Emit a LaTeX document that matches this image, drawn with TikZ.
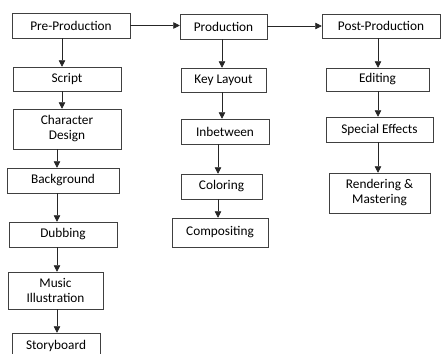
\documentclass[tikz,border=0pt]{standalone}
\usepackage{fontspec}
\setmainfont{Carlito}
\usepackage{tikz}
\usetikzlibrary{calc,arrows.meta,positioning}

\begin{document}
\begin{tikzpicture}[x=1pt, y=-1pt,
		stage/.style={draw=black!75, line width=0.5pt, align=center, inner sep=0pt, font=\fontsize{13.3}{15}\selectfont},
		flow/.style={draw=black!85, line width=0.5pt, -{Triangle[length=6.5pt, width=6.5pt]}}
	]
	\clip (0,0) rectangle (441,353);

	% Top row: the three phases
	\node[stage, minimum width=118pt, minimum height=25pt] (pre) at (71, 25.5) {Pre-Production};
	\node[stage, minimum width=87pt, minimum height=25pt] (prod) at (223.5, 26.5) {Production};
	\node[stage, minimum width=118pt, minimum height=24pt] (post) at (381, 26) {Post-Production};

	% Pre-production column
	\node[stage, minimum width=108pt, minimum height=24pt] (script) at (67, 79) {Script};
	\node[stage, minimum width=108pt, minimum height=40pt] (chardes) at (67, 129) {Character\\Design};
	\node[stage, minimum width=112pt, minimum height=25pt] (backgr) at (63, 180.5) {Background};
	\node[stage, minimum width=108pt, minimum height=25pt] (dubbing) at (63, 234.5) {Dubbing};
	\node[stage, minimum width=95pt, minimum height=37pt] (music) at (55.5, 290.5) {Music\\Illustration};
	\node[stage, minimum width=88pt, minimum height=25pt] (storyb) at (56, 345.5) {Storyboard};

	% Production column
	\node[stage, minimum width=85pt, minimum height=24pt] (keylay) at (223.5, 80) {Key Layout};
	\node[stage, minimum width=88pt, minimum height=25pt] (inbetw) at (225, 131.5) {Inbetween};
	\node[stage, minimum width=81pt, minimum height=25pt] (color) at (221.5, 186.5) {Coloring};
	\node[stage, minimum width=96pt, minimum height=29pt] (compos) at (220, 232.5) {Compositing};

	% Post-production column
	\node[stage, minimum width=103pt, minimum height=23pt] (editing) at (377.5, 79.5) {Editing};
	\node[stage, minimum width=107pt, minimum height=25pt] (special) at (379.5, 129.5) {Special Effects};
	\node[stage, minimum width=101pt, minimum height=40pt] (render) at (379.5, 193) {Rendering \&\\Mastering};

	% Arrow columns
	\coordinate (colA) at (62, 0);
	\coordinate (colB) at (57, 0);
	\coordinate (colC) at (222, 0);
	\coordinate (colD) at (218, 0);
	\coordinate (colE) at (378, 0);

	% Phase links
	\draw[flow] (pre.east) -- (pre.east -| prod.west);
	\draw[flow] (post.west -| prod.east) -- (post.west);

	% Steps
	\draw[flow] (pre.south -| colA) -- (script.north -| colA);
	\draw[flow] (script.south -| colA) -- (chardes.north -| colA);
	\draw[flow] (chardes.south -| colB) -- (backgr.north -| colB);
	\draw[flow] (backgr.south -| colB) -- (dubbing.north -| colB);
	\draw[flow] (dubbing.south -| colB) -- (music.north -| colB);
	\draw[flow] (music.south -| colB) -- (storyb.north -| colB);

	\draw[flow] (prod.south -| colC) -- (keylay.north -| colC);
	\draw[flow] (keylay.south -| colC) -- (inbetw.north -| colC);
	\draw[flow] (inbetw.south -| colD) -- (color.north -| colD);
	\draw[flow] (color.south -| colD) -- (compos.north -| colD);

	\draw[flow] (post.south -| colE) -- (editing.north -| colE);
	\draw[flow] (editing.south -| colE) -- (special.north -| colE);
	\draw[flow] (special.south -| colE) -- (render.north -| colE);
\end{tikzpicture}
\end{document}
